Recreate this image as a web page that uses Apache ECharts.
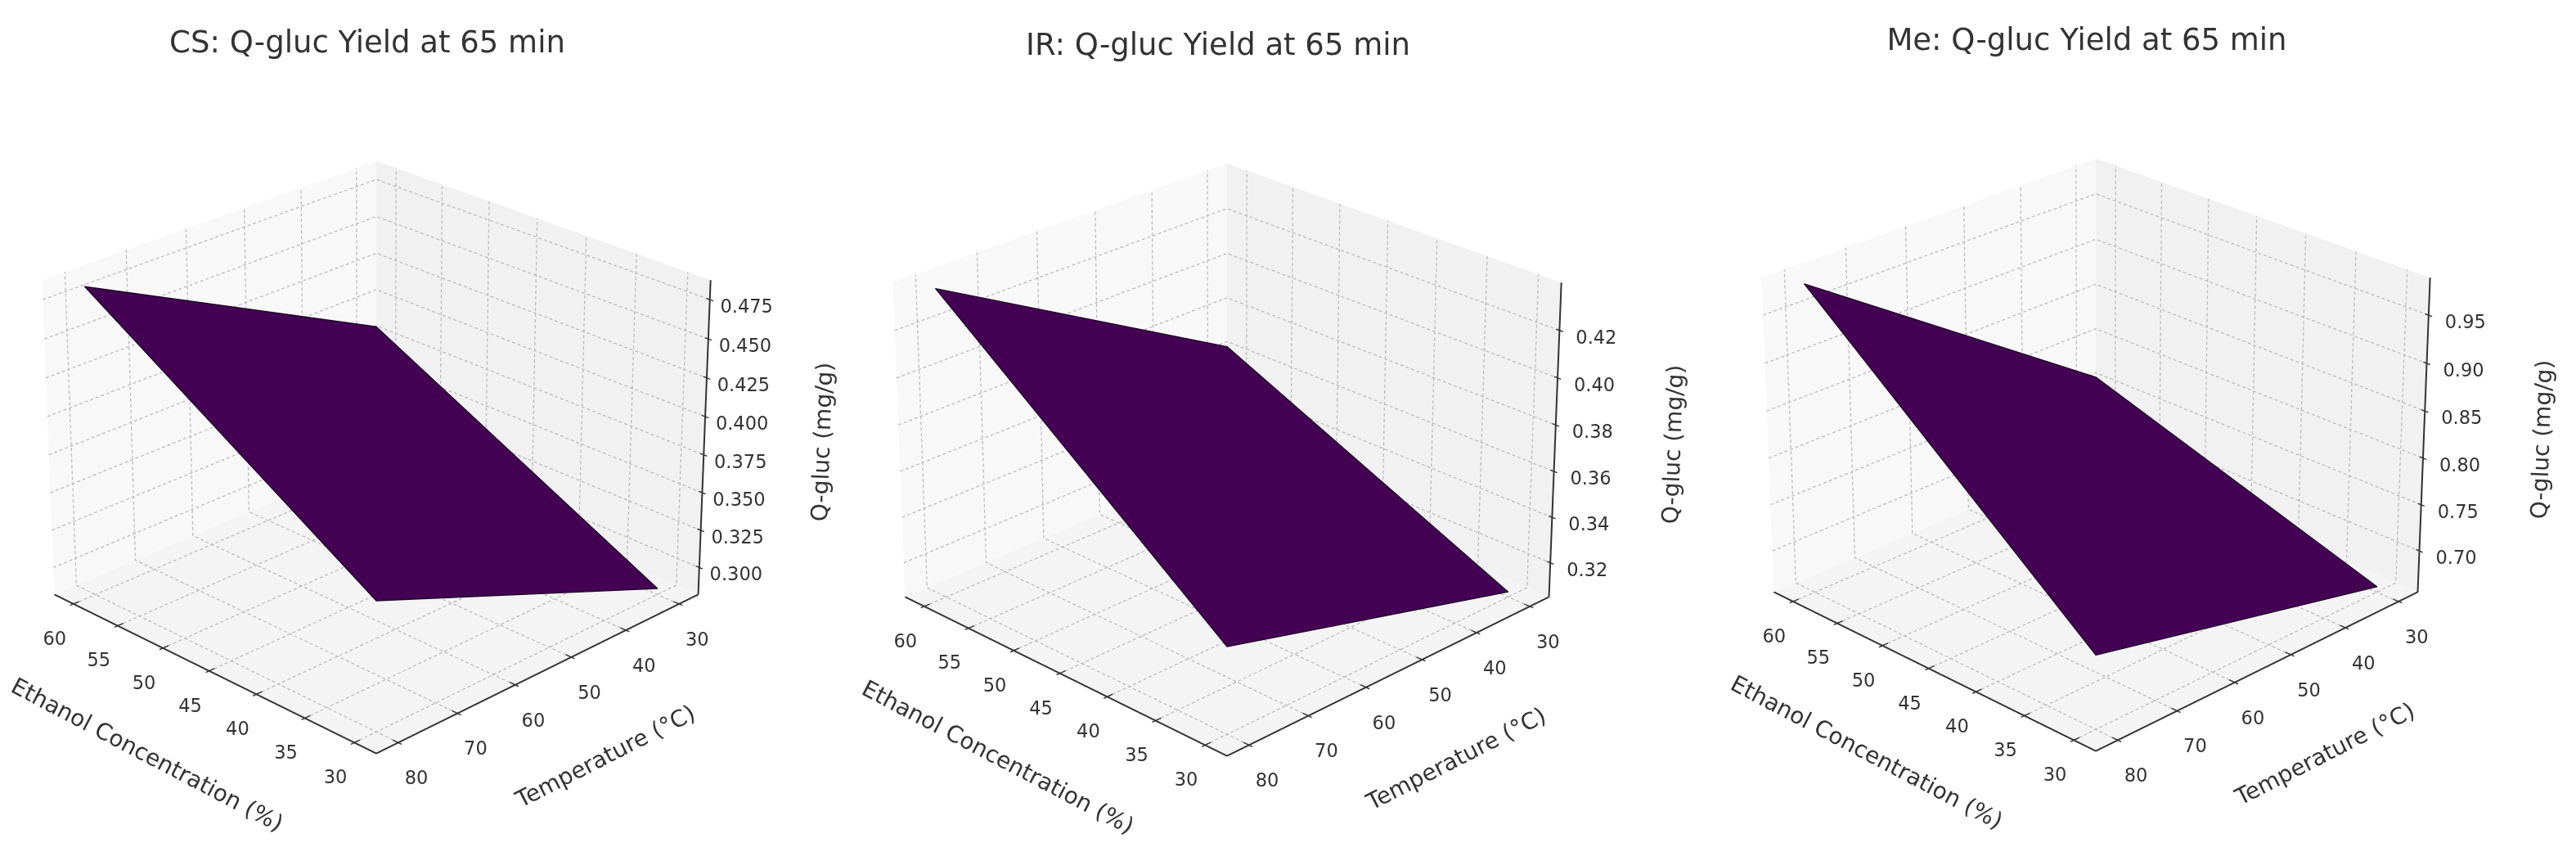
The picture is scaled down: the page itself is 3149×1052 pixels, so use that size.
<!DOCTYPE html>
<html>
<head>
<meta charset="utf-8">
<style>html,body{margin:0;padding:0;background:#fff}#main{width:3149px;height:1052px}</style>
<script src="https://cdn.jsdelivr.net/npm/echarts@6/dist/echarts.min.js"></script>
</head>
<body>
<div id="main"></div>
<script>
// tick values
var ethanolTicks = [30, 35, 40, 45, 50, 55, 60];
var tempTicks = [30, 40, 50, 60, 70, 80];
var csTicks = [0.300, 0.325, 0.350, 0.375, 0.400, 0.425, 0.450, 0.475];
var irTicks = [0.32, 0.34, 0.36, 0.38, 0.40, 0.42];
var meTicks = [0.70, 0.75, 0.80, 0.85, 0.90, 0.95];

// surface corners, grid of ethanol x temperature
var ethanolGrid = [30, 60];
var tempGrid = [30, 80];
// [ethanol30/temp30, ethanol30/temp80, ethanol60/temp30, ethanol60/temp80]
var csYield = [0.2858, 0.3650, 0.3849, 0.4832];
var irYield = [0.3071, 0.3416, 0.3647, 0.4374];
var meYield = [0.6608, 0.7320, 0.7629, 0.9820];

// axis limits
var ethanolLim = [27.81, 62.19];
var tempLim = [26.35, 83.65];
var csLim = [0.2817, 0.4873];
var irLim = [0.3048, 0.4399];
var meLim = [0.6548, 0.9884];

var titles = ['CS: Q-gluc Yield at 65 min', 'IR: Q-gluc Yield at 65 min', 'Me: Q-gluc Yield at 65 min'];
var yields = [csYield, irYield, meYield];
var zTicks = [csTicks, irTicks, meTicks];
var zLims = [csLim, irLim, meLim];
var zDigits = [3, 2, 2];

// where each panel sits on the page
var centers = [[460, 538], [1500, 541], [2562, 535]];
var SX = 4765, SY = 4745, HALF = 0.09;
var FONT = '"DejaVu Sans"';

// same camera as a 3d plot, elev 25 azim 135, box 4:4:3
var el = 25 * Math.PI / 180, az = 135 * Math.PI / 180, dist = 10;
var box = [1.19, 1.19, 0.893];
var w = [Math.cos(el) * Math.cos(az), Math.cos(el) * Math.sin(az), Math.sin(el)];
var u = [-Math.sin(az), Math.cos(az), 0];
var v = [w[1] * u[2] - w[2] * u[1], w[2] * u[0] - w[0] * u[2], w[0] * u[1] - w[1] * u[0]];

function project(x, y, z, zLim) {
	var p = [
		((x - ethanolLim[0]) / (ethanolLim[1] - ethanolLim[0]) - 0.5) * box[0],
		((y - tempLim[0]) / (tempLim[1] - tempLim[0]) - 0.5) * box[1],
		((z - zLim[0]) / (zLim[1] - zLim[0]) - 0.5) * box[2]
	];
	var depth = dist - (p[0] * w[0] + p[1] * w[1] + p[2] * w[2]);
	return [(p[0] * u[0] + p[1] * u[1]) / depth, (p[0] * v[0] + p[1] * v[1] + p[2] * v[2]) / depth];
}

function makeItem(idx) {
	return function (params, api) {
		var zLim = zLims[idx];
		var x0 = ethanolLim[0], x1 = ethanolLim[1], y0 = tempLim[0], y1 = tempLim[1], z0 = zLim[0], z1 = zLim[1];
		function pt(x, y, z) { return api.coord(project(x, y, z, zLim)); }
		var kids = [];
		function pane(points, color) {
			kids.push({ type: 'polygon', shape: { points: points }, style: { fill: color } });
		}
		function line(points, color, width, dash) {
			kids.push({ type: 'polyline', shape: { points: points }, style: { fill: null, stroke: color, lineWidth: width, lineDash: dash || null } });
		}
		function label(text, pos, dx, dy) {
			kids.push({ type: 'text', x: pos[0] + dx, y: pos[1] + dy, style: { text: text, font: '22.5px ' + FONT, fill: '#333', align: 'center', verticalAlign: 'middle' } });
		}

		// panes
		pane([pt(x1, y0, z0), pt(x1, y1, z0), pt(x1, y1, z1), pt(x1, y0, z1)], '#f8f8f8');
		pane([pt(x0, y0, z0), pt(x1, y0, z0), pt(x1, y0, z1), pt(x0, y0, z1)], '#f1f1f1');
		pane([pt(x0, y0, z0), pt(x1, y0, z0), pt(x1, y1, z0), pt(x0, y1, z0)], '#f4f4f4');

		// grid lines
		var gridColor = '#bcbcbc', dash = [4, 3];
		ethanolTicks.forEach(function (t) {
			line([pt(t, y1, z0), pt(t, y0, z0), pt(t, y0, z1)], gridColor, 1.3, dash);
		});
		tempTicks.forEach(function (t) {
			line([pt(x0, t, z0), pt(x1, t, z0), pt(x1, t, z1)], gridColor, 1.3, dash);
		});
		zTicks[idx].forEach(function (t) {
			line([pt(x1, y1, t), pt(x1, y0, t), pt(x0, y0, t)], gridColor, 1.3, dash);
		});

		// surface
		var ys = yields[idx];
		kids.push({
			type: 'polygon',
			shape: { points: [
				pt(ethanolGrid[1], tempGrid[1], ys[3]),
				pt(ethanolGrid[1], tempGrid[0], ys[2]),
				pt(ethanolGrid[0], tempGrid[0], ys[0]),
				pt(ethanolGrid[0], tempGrid[1], ys[1])
			] },
			style: { fill: '#440154', stroke: '#1c0526', lineWidth: 1.3, lineJoin: 'round' }
		});

		// axes
		var axisColor = '#333';
		line([pt(x1, y1, z0), pt(x0, y1, z0)], axisColor, 2);
		line([pt(x0, y1, z0), pt(x0, y0, z0)], axisColor, 2);
		line([pt(x0, y0, z0), pt(x0, y0, z1)], axisColor, 2);

		// ticks and tick labels
		var dy = (y1 - y0) * 0.016, dx = (x1 - x0) * 0.016;
		ethanolTicks.forEach(function (t) {
			line([pt(t, y1 - dy, z0), pt(t, y1 + dy * 0.6, z0)], axisColor, 1.4);
			label(String(t), pt(t, y1, z0), -23, 44);
		});
		tempTicks.forEach(function (t) {
			line([pt(x0 + dx, t, z0), pt(x0 - dx * 0.6, t, z0)], axisColor, 1.4);
			label(String(t), pt(x0, t, z0), 22, 45);
		});
		zTicks[idx].forEach(function (t) {
			line([pt(x0 + dx * 0.6, y0, t), pt(x0 - dx * 0.6, y0, t)], axisColor, 1.4);
			label(t.toFixed(zDigits[idx]), pt(x0, y0, t), 45, 10);
		});

		// axis names
		var c = api.coord([0, 0]);
		function axisName(text, ox, oy, deg) {
			kids.push({
				type: 'text', x: c[0] + ox, y: c[1] + oy, rotation: deg * Math.PI / 180,
				style: { text: text, font: '28px ' + FONT, fill: '#333', align: 'center', verticalAlign: 'middle' }
			});
		}
		axisName('Ethanol Concentration (%)', -281, 386, -27.7);
		axisName('Temperature (°C)', 281, 388, 27);
		axisName('Q-gluc (mg/g)', 547, 2, 88);

		return { type: 'group', children: kids };
	};
}

var grids = [], xAxes = [], yAxes = [], series = [], titleList = [];
centers.forEach(function (c, i) {
	grids.push({ left: c[0] - HALF * SX, top: c[1] - HALF * SY, width: 2 * HALF * SX, height: 2 * HALF * SY });
	xAxes.push({ type: 'value', gridIndex: i, min: -HALF, max: HALF, show: false });
	yAxes.push({ type: 'value', gridIndex: i, min: -HALF, max: HALF, show: false });
	titleList.push({
		text: titles[i], left: c[0] - 16, top: c[1] - 489, textAlign: 'center', textVerticalAlign: 'middle',
		textStyle: { fontFamily: 'DejaVu Sans', fontSize: 37, fontWeight: 'normal', color: '#333' }
	});
	series.push({
		type: 'custom', coordinateSystem: 'cartesian2d', xAxisIndex: i, yAxisIndex: i,
		silent: true, clip: false, animation: false, renderItem: makeItem(i), data: [[0, 0]]
	});
});

var chart = echarts.init(document.getElementById('main'));
chart.setOption({
	backgroundColor: '#fff',
	animation: false,
	title: titleList,
	grid: grids,
	xAxis: xAxes,
	yAxis: yAxes,
	series: series
});
</script>
</body>
</html>
